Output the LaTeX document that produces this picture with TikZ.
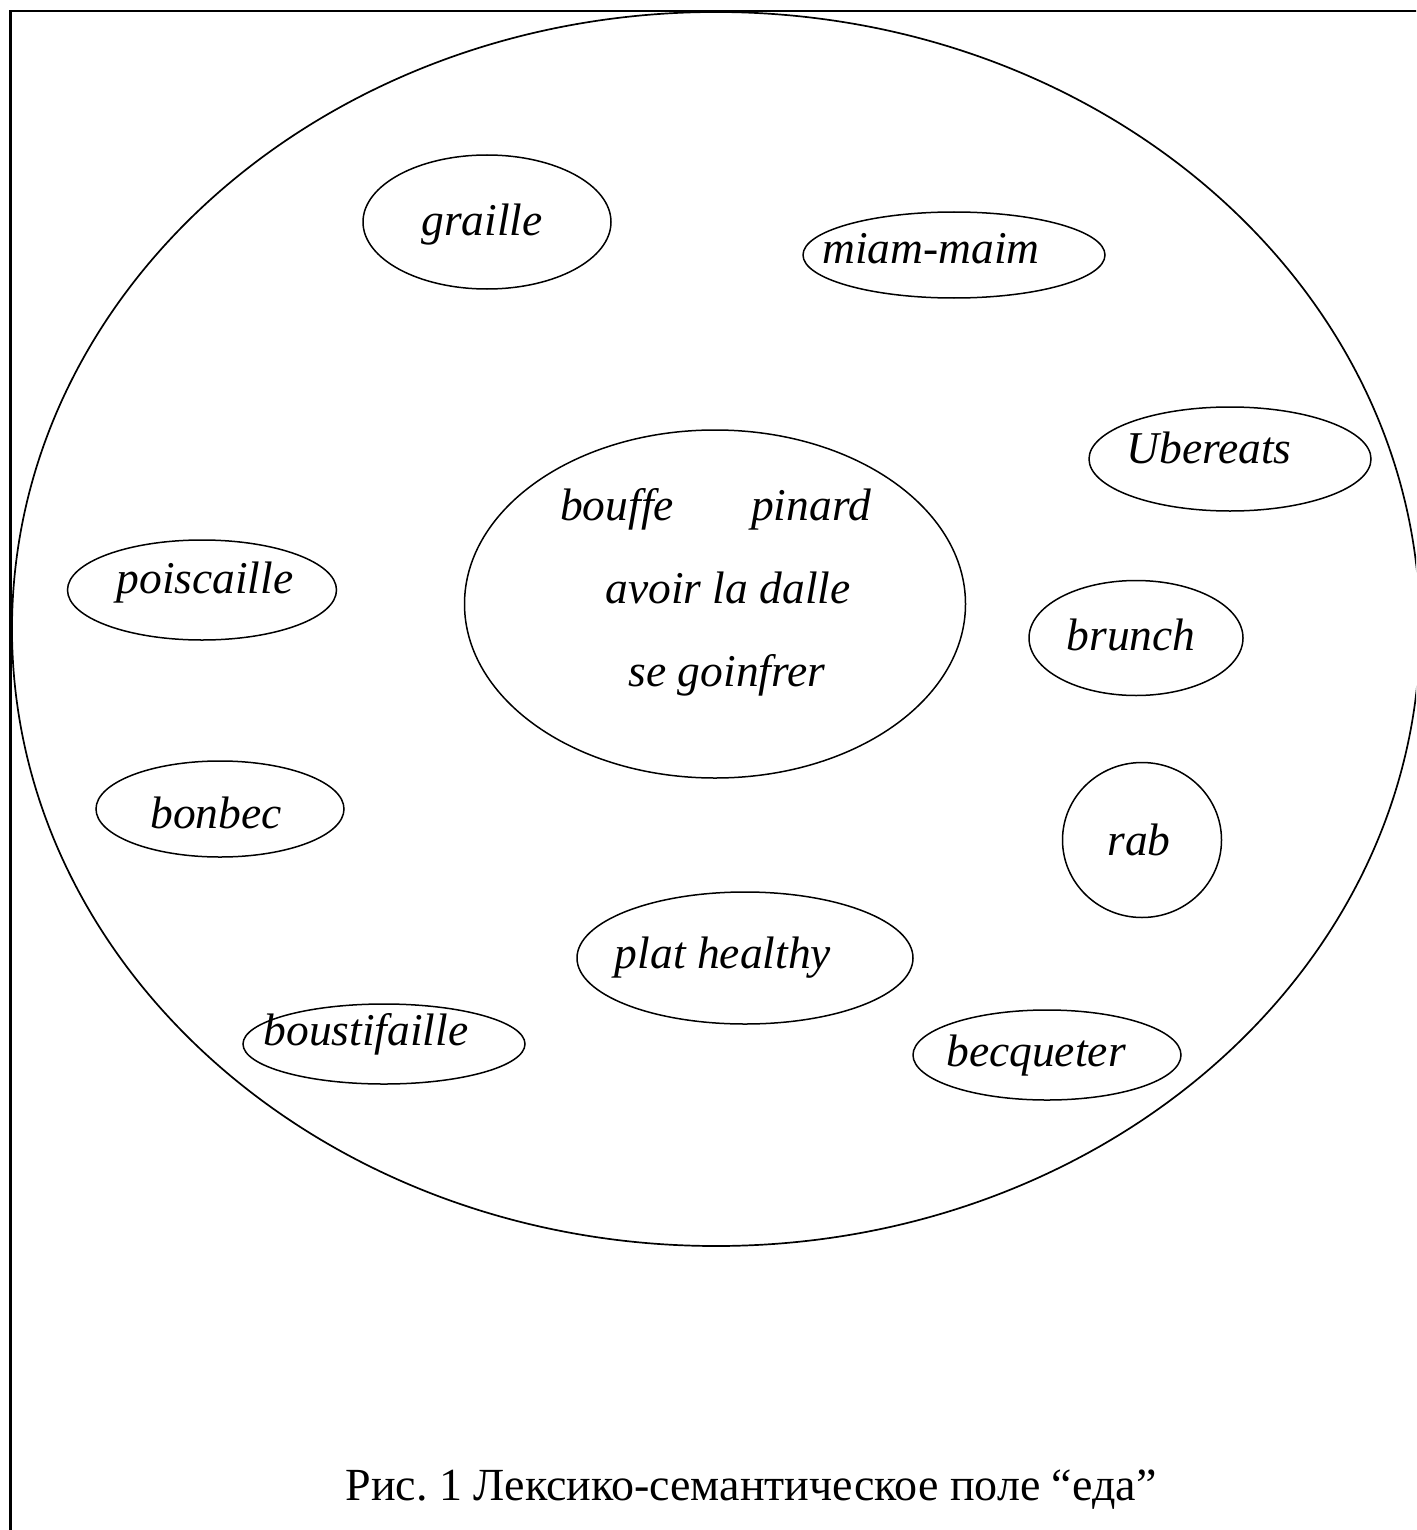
\documentclass[tikz,border=0pt]{standalone}
\usepackage{fontspec}
\setmainfont{Liberation Serif}
\usetikzlibrary{shapes.geometric}
\frenchspacing
\begin{document}
\begin{tikzpicture}[x=1pt,y=-1pt,
  oval/.style={draw, ellipse, line width=1.5pt, inner sep=0pt},
  word/.style={anchor=base, font=\fontsize{45.5}{50}\selectfont\itshape, inner sep=0pt},
  caption/.style={anchor=base, font=\fontsize{46}{50}\selectfont, inner sep=0pt}]
\clip (0,0) rectangle (1416,1530);
\fill[white] (0,0) rectangle (1416,1530);
% frame
\draw[line width=2.6pt] (10.5,11) rectangle (1600,1700);
% outer field
\node[oval, line width=1.7pt, minimum width=1408pt, minimum height=1234pt] (field) at (716,629) {};
% small ellipses
\node[oval, minimum width=248pt, minimum height=134pt] (graille) at (487,222) {};
\node[oval, minimum width=302pt, minimum height=86pt] (miam) at (954,255) {};
\node[oval, minimum width=282pt, minimum height=104pt] (uber) at (1230,459) {};
\node[oval, minimum width=501pt, minimum height=348pt] (core) at (715,604) {};
\node[oval, minimum width=269pt, minimum height=100pt] (poisc) at (202,590) {};
\node[oval, minimum width=214pt, minimum height=115pt] (brunch) at (1136,638) {};
\node[oval, minimum width=248pt, minimum height=96pt] (bonbec) at (220,809) {};
\node[oval, minimum width=159pt, minimum height=155pt] (rab) at (1142,840) {};
\node[oval, minimum width=336pt, minimum height=132pt] (plat) at (745,958) {};
\node[oval, minimum width=282pt, minimum height=80pt] (boust) at (384,1044) {};
\node[oval, minimum width=268pt, minimum height=90pt] (becq) at (1047,1055) {};
% words
\node[word] (tgraille) at (482,236) {graille};
\node[word] (tmiam) at (931,263) {miam-maim};
\node[word] (tuber) at (1209,463) {Ubereats};
\node[word] (tbouffe) at (617,520) {bouffe};
\node[word] (tpinard) at (811,520) {pinard};
\node[word] (tavoir) at (728,603) {avoir la dalle};
\node[word] (tgoinf) at (727,686) {se goinfrer};
\node[word] (tpoisc) at (205,593) {poiscaille};
\node[word] (tbrunch) at (1131,650) {brunch};
\node[word] (tbonbec) at (216,828) {bonbec};
\node[word] (trab) at (1139,855) {rab};
\node[word] (tplat) at (723,968) {plat healthy};
\node[word] (tboust) at (366,1045) {boustifaille};
\node[word] (tbecq) at (1036,1066) {becqueter};
% caption
\node[caption] (cap) at (751,1500) {Рис.\ 1 Лексико-семантическое поле “еда”};
\end{tikzpicture}
\end{document}
